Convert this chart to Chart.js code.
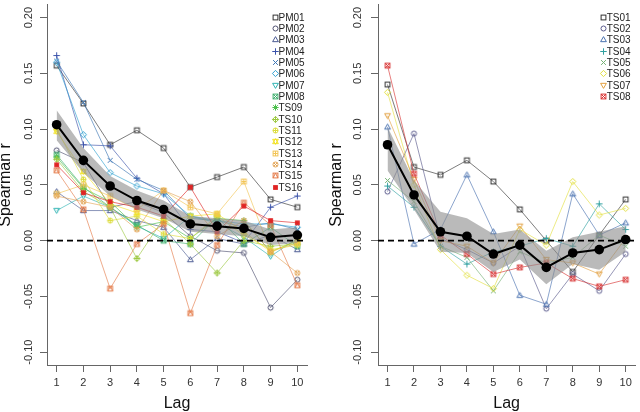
<!DOCTYPE html>
<html>
<head>
<meta charset="utf-8">
<script src="https://cdn.jsdelivr.net/npm/chart.js@4.4.1/dist/chart.umd.min.js"></script>
<style>
  body { margin: 0; background: #fff; }
  #wrap { position: relative; width: 640px; height: 412px; }
  canvas { position: absolute; top: 0; }
</style>
</head>
<body>
<div id="wrap">
  <canvas id="left" width="320" height="412" style="left:0"></canvas>
  <canvas id="right" width="320" height="412" style="left:320px"></canvas>
</div>
<script>
// lags on the x axis
var lags = [1, 2, 3, 4, 5, 6, 7, 8, 9, 10];

// left panel: PM01-PM08, TS09-TS16
var pm01 = [0.157, 0.123, 0.086, 0.099, 0.083, 0.048, 0.057, 0.066, 0.037, 0.030];
var pm02 = [0.081, 0.070, 0.030, 0.035, 0.025, 0.004, -0.009, -0.011, -0.060, -0.035];
var pm03 = [0.044, 0.027, 0.027, 0.018, 0.012, -0.017, 0.002, -0.003, 0.005, -0.008];
var pm04 = [0.166, 0.086, 0.085, 0.056, 0.042, 0.010, 0.008, -0.002, 0.030, 0.040];
var pm05 = [0.161, 0.124, 0.072, 0.055, 0.045, 0.020, 0.018, 0.012, 0.016, 0.010];
var pm06 = [0.160, 0.095, 0.061, 0.049, 0.042, 0.022, 0.018, 0.015, 0.015, 0.012];
var pm07 = [0.027, 0.040, 0.030, 0.013, 0.002, 0.022, 0.016, 0.003, -0.014, 0.002];
var pm08 = [0.077, 0.048, 0.030, 0.014, 0.000, -0.003, 0.021, -0.003, 0.012, -0.005];
var ts09 = [0.075, 0.047, 0.035, 0.012, 0.017, 0.002, 0.020, 0.018, -0.010, 0.000];
var ts10 = [0.073, 0.044, 0.030, -0.016, 0.020, -0.003, -0.029, 0.000, -0.005, -0.003];
var ts11 = [0.100, 0.055, 0.018, 0.022, 0.006, 0.002, 0.022, 0.005, -0.008, -0.004];
var ts12 = [0.098, 0.062, 0.033, 0.025, 0.017, 0.022, 0.024, 0.008, -0.010, 0.000];
var ts13 = [0.042, 0.050, 0.040, 0.028, 0.045, 0.030, 0.024, 0.053, -0.010, -0.002];
var ts14 = [0.040, 0.035, 0.030, 0.010, 0.045, 0.035, 0.004, 0.018, -0.010, -0.029];
var ts15 = [0.063, 0.028, -0.043, -0.003, 0.015, -0.065, -0.004, 0.034, 0.014, -0.040];
var ts16 = [0.068, 0.043, 0.035, 0.030, 0.022, 0.048, 0.008, 0.031, 0.018, 0.016];
var leftMean  = [0.104, 0.072, 0.049, 0.036, 0.028, 0.015, 0.013, 0.011, 0.003, 0.005];
var leftUpper = [0.117, 0.083, 0.058, 0.045, 0.036, 0.022, 0.020, 0.018, 0.010, 0.012];
var leftLower = [0.090, 0.061, 0.040, 0.028, 0.020, 0.008, 0.006, 0.004, -0.004, -0.002];

// right panel: TS01-TS08
var ts01 = [0.140, 0.066, 0.059, 0.072, 0.053, 0.028, 0.000, -0.028, 0.005, 0.037];
var ts02 = [0.044, 0.096, 0.002, -0.008, -0.020, -0.005, -0.061, -0.030, -0.045, -0.012];
var ts03 = [0.102, -0.003, 0.010, 0.059, 0.008, -0.049, -0.057, 0.042, 0.005, 0.016];
var ts04 = [0.049, 0.030, -0.005, -0.021, -0.010, -0.005, 0.002, -0.005, 0.033, 0.010];
var ts05 = [0.054, 0.035, -0.005, -0.015, -0.045, -0.010, -0.020, -0.015, 0.005, -0.005];
var ts06 = [0.133, 0.050, -0.008, -0.031, -0.043, 0.010, -0.004, 0.053, 0.023, 0.029];
var ts07 = [0.112, 0.055, 0.000, -0.005, -0.020, 0.013, -0.017, -0.020, -0.030, 0.002];
var ts08 = [0.157, 0.060, 0.005, -0.012, -0.030, -0.024, -0.020, -0.034, -0.041, -0.035];
var rightMean  = [0.086, 0.041, 0.008, 0.004, -0.012, -0.004, -0.024, -0.011, -0.008, 0.001];
var rightUpper = [0.102, 0.054, 0.026, 0.020, 0.006, 0.010, -0.009, 0.003, 0.008, 0.013];
var rightLower = [0.063, 0.028, -0.010, -0.011, -0.028, -0.017, -0.039, -0.021, -0.026, -0.010];

var X_MIN = 0.64, X_MAX = 10.36;
var Y_MIN = -0.1115, Y_MAX = 0.2115;

var FONT = "'Liberation Sans', Arimo, Arial, sans-serif";

// R style plotting symbols (pch 0..15) as little canvases
function pch(type, color) {
  var S = 9, c = document.createElement('canvas');
  c.width = S; c.height = S;
  var g = c.getContext('2d');
  g.strokeStyle = color; g.fillStyle = color; g.lineWidth = 1;
  var m = S / 2, r = 2.4;
  function sq() { g.strokeRect(m - r, m - r, 2 * r, 2 * r); }
  function circ() { g.beginPath(); g.arc(m, m, r * 1.05, 0, Math.PI * 2); g.stroke(); }
  function plus(k) { g.beginPath(); g.moveTo(m - k, m); g.lineTo(m + k, m); g.moveTo(m, m - k); g.lineTo(m, m + k); g.stroke(); }
  function cross(k) { g.beginPath(); g.moveTo(m - k, m - k); g.lineTo(m + k, m + k); g.moveTo(m - k, m + k); g.lineTo(m + k, m - k); g.stroke(); }
  function tri(up) {
    var s = up ? 1 : -1, k = r * 1.2;
    g.beginPath(); g.moveTo(m, m - s * k); g.lineTo(m + k, m + s * k * 0.75); g.lineTo(m - k, m + s * k * 0.75); g.closePath(); g.stroke();
  }
  function diam() { var k = r * 1.3; g.beginPath(); g.moveTo(m, m - k); g.lineTo(m + k, m); g.lineTo(m, m + k); g.lineTo(m - k, m); g.closePath(); g.stroke(); }
  switch (type) {
    case 0: sq(); break;
    case 1: circ(); break;
    case 2: tri(true); break;
    case 3: plus(r * 1.35); break;
    case 4: cross(r); break;
    case 5: diam(); break;
    case 6: tri(false); break;
    case 7: sq(); cross(r); break;
    case 8: plus(r * 1.3); cross(r * 0.95); break;
    case 9: diam(); plus(r * 1.3); break;
    case 10: circ(); plus(r * 1.05); break;
    case 11: tri(true); tri(false); break;
    case 12: sq(); plus(r); break;
    case 13: circ(); cross(r * 0.75); break;
    case 14: sq(); g.beginPath(); g.moveTo(m - r, m + r); g.lineTo(m, m - r); g.lineTo(m + r, m + r); g.stroke(); break;
    case 15: g.fillRect(m - r, m - r, 2 * r, 2 * r); break;
  }
  return c;
}

// legend drawn inside the plot, top right
var pchLegend = {
  id: 'pchLegend',
  afterDraw: function (chart, args, o) {
    var ctx = chart.ctx, a = chart.chartArea;
    var items = chart.data.datasets.filter(function (d) { return d.legendText; });
    ctx.save();
    ctx.font = '10px ' + FONT;
    ctx.textBaseline = 'middle';
    ctx.fillStyle = '#222';
    items.forEach(function (d, i) {
      var y = a.top + o.top + i * o.row;
      var x = a.right - o.right;
      var img = d.pointStyle;
      ctx.drawImage(img, Math.round(x - img.width / 2), Math.round(y - img.height / 2));
      ctx.fillText(d.legendText, x + 3.5, y + 0.5);
    });
    ctx.restore();
  }
};

function pts(arr) {
  return lags.map(function (x, i) { return { x: x, y: arr[i] }; });
}

function fade(hex, a) {
  var v = parseInt(hex.slice(1), 16);
  return 'rgba(' + (v >> 16) + ',' + ((v >> 8) & 255) + ',' + (v & 255) + ',' + a + ')';
}

function makePanel(id, names, series, colors, mean, upper, lower, yWidth, padRight, titlePad) {
  var datasets = [];
  datasets.push({
    data: pts(mean), borderColor: '#000', borderWidth: 2, pointRadius: 4.8,
    pointBackgroundColor: '#000', pointBorderWidth: 0, order: 0
  });
  datasets.push({
    data: [{ x: X_MIN, y: 0 }, { x: X_MAX, y: 0 }], borderColor: '#000', borderWidth: 1.6,
    borderDash: [6, 4], pointRadius: 0, order: 1
  });
  datasets.push({ data: pts(upper), borderWidth: 0, pointRadius: 0, fill: false, order: 2 });
  datasets.push({
    data: pts(lower), borderWidth: 0, pointRadius: 0, fill: '-1',
    backgroundColor: 'rgba(140,140,140,0.6)', order: 2
  });
  var n = series.length;
  series.forEach(function (s, i) {
    var sym = pch(i, colors[i]);
    datasets.push({
      data: pts(s), legendText: names[i], borderColor: fade(colors[i], 0.8), borderWidth: 0.8,
      pointStyle: sym, pointRadius: 3, order: 10 + (n - i)
    });
  });

  var tickFont = { family: FONT, size: 11 };
  return new Chart(document.getElementById(id), {
    type: 'line',
    data: { datasets: datasets },
    plugins: [pchLegend],
    options: {
      responsive: false,
      animation: false,
      devicePixelRatio: 1,
      layout: { padding: { left: 0, top: 0, right: padRight, bottom: 0 } },
      elements: { line: { tension: 0 } },
      plugins: {
        legend: { display: false },
        tooltip: { enabled: false },
        pchLegend: { top: 12.5, row: 11.33, right: 32 }
      },
      scales: {
        x: {
          type: 'linear', min: X_MIN, max: X_MAX,
          ticks: { stepSize: 1, includeBounds: false, autoSkip: false, maxRotation: 0,
                   font: tickFont, color: '#333', padding: 4 },
          grid: { drawOnChartArea: false, tickLength: 7, color: '#666' },
          border: { color: '#666', width: 1 },
          title: { display: true, text: 'Lag', color: '#111',
                   font: { family: FONT, size: 16, lineHeight: 1 }, padding: 0 },
          afterFit: function (s) { s.height = 47; s.paddingLeft = 0; s.paddingRight = 0; }
        },
        y: {
          type: 'linear', min: Y_MIN, max: Y_MAX,
          ticks: { stepSize: 0.05, includeBounds: false, minRotation: 90, maxRotation: 90,
                   crossAlign: 'center', padding: titlePad.tick, font: tickFont, color: '#333',
                   callback: function (v) { return v.toFixed(2); } },
          grid: { drawOnChartArea: false, tickLength: 7, color: '#666' },
          border: { color: '#666', width: 1 },
          title: { display: true, text: 'Spearman r', color: '#111',
                   font: { family: FONT, size: 16, lineHeight: 0.75 },
                   padding: { top: titlePad.title, bottom: 0 } },
          afterFit: function (s) { s.width = yWidth; s.paddingTop = 0; s.paddingBottom = 0; }
        }
      }
    }
  });
}

makePanel('left',
  ['PM01', 'PM02', 'PM03', 'PM04', 'PM05', 'PM06', 'PM07', 'PM08',
   'TS09', 'TS10', 'TS11', 'TS12', 'TS13', 'TS14', 'TS15', 'TS16'],
  [pm01, pm02, pm03, pm04, pm05, pm06, pm07, pm08, ts09, ts10, ts11, ts12, ts13, ts14, ts15, ts16],
  ['#333333', '#4f5070', '#4a5a92', '#3a52aa', '#3a74b4', '#2fa0d0', '#30b4b4', '#3cae6c',
   '#4cc04c', '#9cc840', '#dcdc3c', '#f2e224', '#f2c454', '#e2a456', '#e47a48', '#e02424'],
  leftMean, leftUpper, leftLower, 47, 13, { tick: -2, title: 0 });

makePanel('right',
  ['TS01', 'TS02', 'TS03', 'TS04', 'TS05', 'TS06', 'TS07', 'TS08'],
  [ts01, ts02, ts03, ts04, ts05, ts06, ts07, ts08],
  ['#333333', '#5a5a8c', '#4a72b0', '#30a0a0', '#74b074', '#e2e040', '#e2a040', '#d83232'],
  rightMean, rightUpper, rightLower, 58, 0, { tick: 0, title: 10.5 });
</script>
</body>
</html>
